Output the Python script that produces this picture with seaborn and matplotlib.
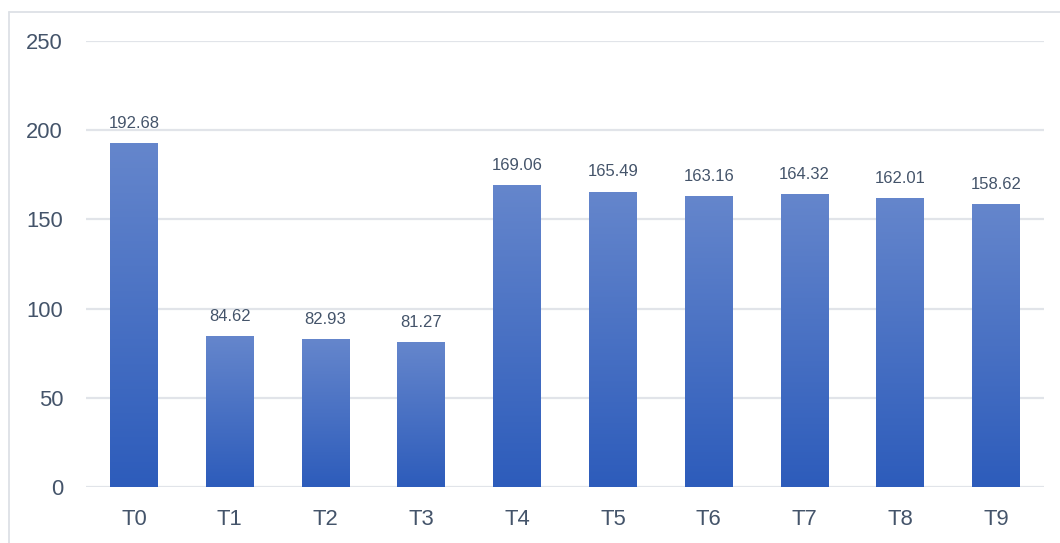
import numpy as np
import pandas as pd
import matplotlib
matplotlib.use("Agg")
import matplotlib.pyplot as plt
from matplotlib.lines import Line2D
from matplotlib.colors import LinearSegmentedColormap
import seaborn as sns

categories = ["T0", "T1", "T2", "T3", "T4", "T5", "T6", "T7", "T8", "T9"]
values = [192.68, 84.62, 82.93, 81.27, 169.06, 165.49, 163.16, 164.32, 162.01, 158.62]
y_ticks = [0, 50, 100, 150, 200, 250]

sns.set_theme(style="white")
plt.rcParams['font.family'] = ['Liberation Sans', 'DejaVu Sans']

text_color = "#44546A"
top_color = "#6586CC"
bottom_color = "#2D5CBB"

df = pd.DataFrame({"cat": categories, "val": values})

fig = plt.figure(figsize=(10.6, 5.43), dpi=100)
ax = fig.add_axes([86/1060, 1-487/543, (1044-86)/1060, (487-41)/543])

sns.barplot(data=df, x="cat", y="val", ax=ax, width=0.5, color=bottom_color,
            saturation=1, zorder=3)

ax.set_ylim(0, 250)
ax.set_xlim(-0.5, len(categories) - 0.5)
ax.set_yticks(y_ticks)
ax.set_xlabel("")
ax.set_ylabel("")
for s in ax.spines.values():
    s.set_visible(False)
ax.yaxis.grid(True, color="#E1E4E9", linewidth=1.6, zorder=0)
ax.set_axisbelow(True)
ax.tick_params(axis="y", length=0, pad=16.5, labelsize=15.8, labelcolor=text_color)
ax.tick_params(axis="x", length=0, pad=16, labelsize=15.8, labelcolor=text_color)

cmap = LinearSegmentedColormap.from_list("g", [bottom_color, top_color])
grad = np.linspace(0, 1, 256).reshape(-1, 1)
for p in ax.patches:
    x0, y0 = p.get_x(), p.get_y()
    w, h = p.get_width(), p.get_height()
    im = ax.imshow(grad, cmap=cmap, aspect="auto", origin="lower",
                   extent=[x0, x0 + w, y0, y0 + h], zorder=3)
    im.set_clip_path(p)
    p.set_facecolor("none")
    p.set_edgecolor("none")

for p, v in zip(ax.patches, values):
    ax.annotate(f"{v:.2f}", (p.get_x() + p.get_width() / 2, p.get_height()),
                xytext=(0, 11), textcoords="offset points", ha="center",
                va="baseline", fontsize=12, color=text_color)

ax.set_ylim(0, 250)
ax.set_xlim(-0.5, len(categories) - 0.5)

border_color = "#DDE1E6"
fig.add_artist(Line2D([9/1060, 1.0], [1-12/543, 1-12/543], transform=fig.transFigure,
                      color=border_color, linewidth=1.3))
fig.add_artist(Line2D([9/1060, 9/1060], [0, 1-12/543], transform=fig.transFigure,
                      color=border_color, linewidth=1.3))

fig.savefig("out.png", dpi=100)
